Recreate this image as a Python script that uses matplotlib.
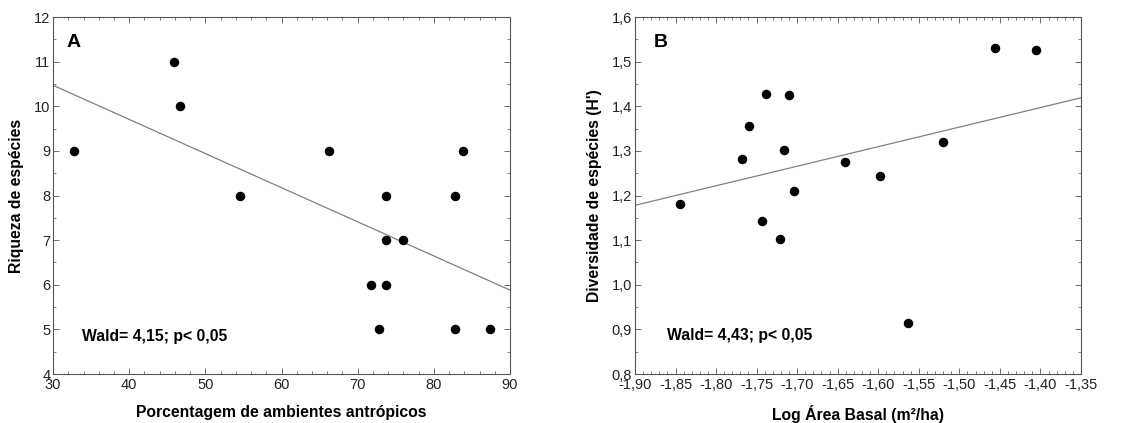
import numpy as np
import matplotlib
matplotlib.use('Agg')
import matplotlib.pyplot as plt
from matplotlib.ticker import MultipleLocator, FuncFormatter

plt.rcParams['font.family'] = ['Liberation Sans', 'DejaVu Sans']
plt.rcParams['axes.unicode_minus'] = False

# painel A: riqueza x porcentagem de ambientes antropicos
antrop = [32.7, 45.9, 46.7, 54.6, 66.2, 71.7, 72.8, 73.7, 73.7, 73.7, 75.9, 82.8, 82.8, 83.8, 87.4]
riqueza = [9, 11, 10, 8, 9, 6, 5, 8, 7, 6, 7, 8, 5, 9, 5]
fit_a_x = [30, 90]
fit_a_y = [10.47, 5.88]

# painel B: diversidade x log area basal
log_area = [-1.8445, -1.7677, -1.7595, -1.7439, -1.7381, -1.7209, -1.7160, -1.7106,
            -1.7037, -1.6408, -1.5977, -1.5632, -1.5200, -1.4560, -1.4050]
diversidade = [1.181, 1.281, 1.356, 1.144, 1.427, 1.103, 1.302, 1.425,
               1.211, 1.274, 1.243, 0.915, 1.319, 1.530, 1.527]
fit_b_x = [-1.90, -1.35]
fit_b_y = [1.178, 1.419]

virg = lambda fmt: FuncFormatter(lambda v, p: (fmt % v).replace('.', ','))

fig = plt.figure(figsize=(11.48, 4.23), dpi=100)
axA = fig.add_axes([0.0462, 0.1158, 0.3981, 0.844])
axB = fig.add_axes([0.5531, 0.1158, 0.3885, 0.844])

def estilo(ax):
    for s in ax.spines.values():
        s.set_color('#555555')
        s.set_linewidth(0.8)
    ax.tick_params(which='both', direction='in', top=True, right=True,
                   colors='#555555', labelcolor='#222222', labelsize=10.5, pad=2)
    ax.tick_params(which='major', length=4, width=0.6)
    ax.tick_params(which='minor', length=2, width=0.5)
    ax.tick_params(axis='x', pad=3)

axA.plot(fit_a_x, fit_a_y, color='#808080', lw=0.9)
axA.scatter(antrop, riqueza, s=34, color='black', zorder=3)
axA.set_xlim(30, 90)
axA.set_ylim(4, 12)
axA.xaxis.set_major_locator(MultipleLocator(10))
axA.xaxis.set_minor_locator(MultipleLocator(2))
axA.yaxis.set_major_locator(MultipleLocator(1))
axA.yaxis.set_minor_locator(MultipleLocator(0.5))
estilo(axA)
axA.set_xlabel('Porcentagem de ambientes antrópicos', fontsize=11.3, fontweight='bold', labelpad=9)
axA.set_ylabel('Riqueza de espécies', fontsize=11.3, fontweight='bold', labelpad=7)
axA.text(0.029, 0.929, 'A', transform=axA.transAxes, fontsize=14, fontweight='bold', va='center')
axA.text(0.064, 0.106, 'Wald= 4,15; p< 0,05', transform=axA.transAxes, fontsize=11.3,
         fontweight='bold', va='center')

axB.plot(fit_b_x, fit_b_y, color='#808080', lw=0.9)
axB.scatter(log_area, diversidade, s=34, color='black', zorder=3)
axB.set_xlim(-1.90, -1.35)
axB.set_ylim(0.8, 1.6)
axB.xaxis.set_major_locator(MultipleLocator(0.05))
axB.xaxis.set_minor_locator(MultipleLocator(0.01))
axB.yaxis.set_major_locator(MultipleLocator(0.1))
axB.yaxis.set_minor_locator(MultipleLocator(0.05))
axB.xaxis.set_major_formatter(virg('%.2f'))
axB.yaxis.set_major_formatter(virg('%.1f'))
estilo(axB)
axB.set_xlabel('Log Área Basal (m²/ha)', fontsize=11.3, fontweight='bold', labelpad=9)
axB.set_ylabel("Diversidade de espécies (H')", fontsize=11.3, fontweight='bold', labelpad=7)
axB.text(0.043, 0.929, 'B', transform=axB.transAxes, fontsize=14, fontweight='bold', va='center')
axB.text(0.072, 0.108, 'Wald= 4,43; p< 0,05', transform=axB.transAxes, fontsize=11.3,
         fontweight='bold', va='center')

fig.savefig('out.png', dpi=100)
